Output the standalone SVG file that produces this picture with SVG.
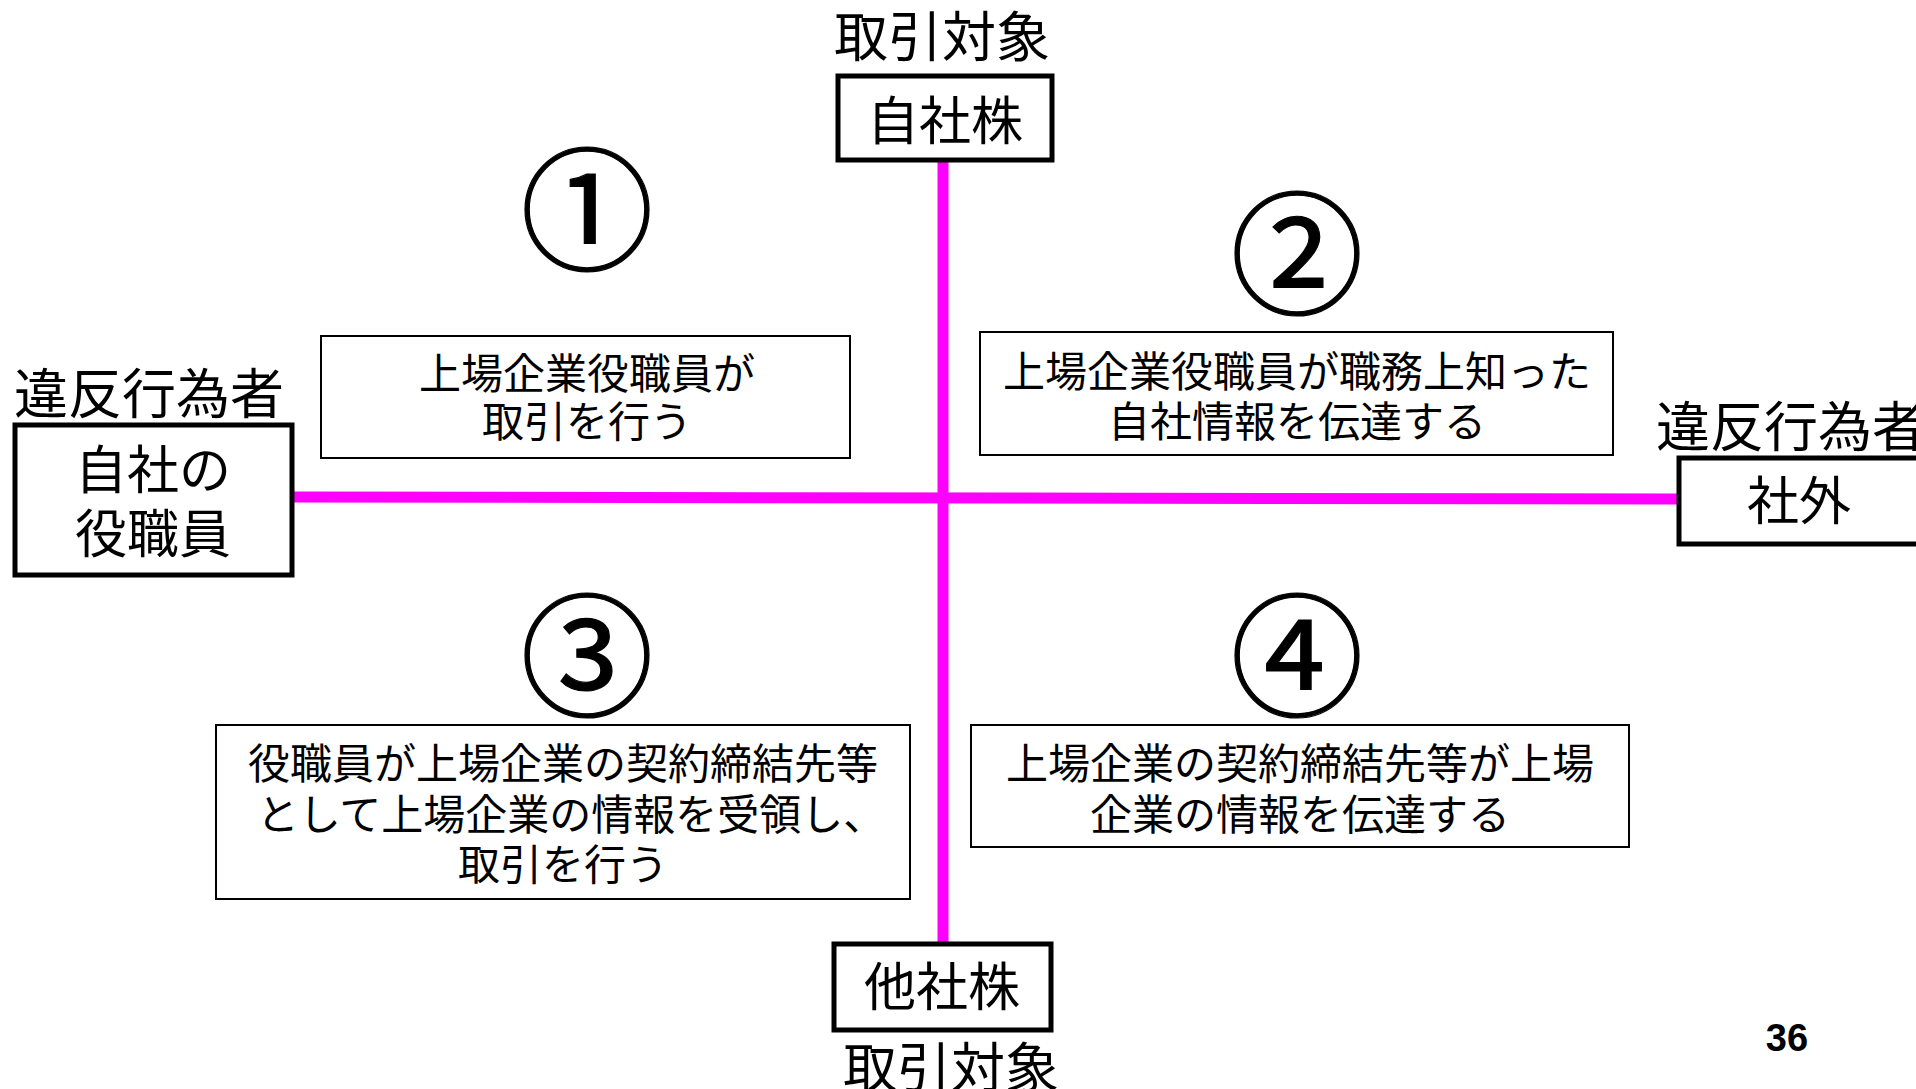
<svg xmlns="http://www.w3.org/2000/svg" width="1916" height="1089" viewBox="0 0 1916 1089">
<style>
text{font-family:"Noto Sans CJK JP","Noto Sans CJK SC",sans-serif;fill:#000;text-anchor:middle}
.lbl{font-size:54px}
.big{font-size:52px}
.q{font-size:42px}
.num{font-size:133px;stroke:#000;stroke-width:1.2}
.thick{fill:#fff;stroke:#000;stroke-width:5}
.thin{fill:#fff;stroke:#000;stroke-width:2}
.axis{stroke:#FF00FF;stroke-width:11;fill:none}
.pg{font-family:"Liberation Sans",Arial,sans-serif;font-weight:bold;font-size:38px}
</style>
<rect width="1916" height="1089" fill="#fff"/>
<g id="connectors">
<line class="axis" x1="943" y1="161" x2="943" y2="944"/>
<line class="axis" x1="292" y1="497" x2="1679" y2="499"/>
</g>
<g id="top-target">
<text class="lbl" x="942" y="57">取引対象</text>
<rect class="thick" x="838" y="76" width="214" height="84"/>
<text class="big" x="945" y="140">自社株</text>
</g>
<g id="bottom-target">
<rect class="thick" x="834" y="944" width="217" height="86"/>
<text class="big" x="942" y="1006">他社株</text>
<text class="lbl" x="951" y="1088">取引対象</text>
</g>
<g id="left-actor">
<text class="lbl" x="149" y="414">違反行為者</text>
<rect class="thick" x="15" y="425" width="277" height="150"/>
<text class="big" x="153" y="489">自社の</text>
<text class="big" x="153" y="553">役職員</text>
</g>
<g id="right-actor">
<text class="lbl" x="1656" y="447" style="text-anchor:start">違反行為者</text>
<rect class="thick" x="1679" y="458" width="260" height="86"/>
<text class="big" x="1799" y="520">社外</text>
</g>
<g id="q1">
<text class="num" x="587" y="260">①</text>
<rect class="thin" x="321" y="336" width="529" height="122"/>
<text class="q" x="587" y="389">上場企業役職員が</text>
<text class="q" x="587" y="437">取引を行う</text>
</g>
<g id="q2">
<text class="num" x="1297" y="304">②</text>
<rect class="thin" x="980" y="332" width="633" height="123"/>
<text class="q" x="1297" y="387">上場企業役職員が職務上知った</text>
<text class="q" x="1297" y="437">自社情報を伝達する</text>
</g>
<g id="q3">
<text class="num" x="587" y="706">③</text>
<rect class="thin" x="216" y="725" width="694" height="174"/>
<text class="q" x="563" y="779">役職員が上場企業の契約締結先等</text>
<text class="q" x="571" y="830">として上場企業の情報を受領し、</text>
<text class="q" x="563" y="880">取引を行う</text>
</g>
<g id="q4">
<text class="num" x="1297" y="706">④</text>
<rect class="thin" x="971" y="725" width="658" height="122"/>
<text class="q" x="1300" y="779">上場企業の契約締結先等が上場</text>
<text class="q" x="1300" y="830">企業の情報を伝達する</text>
</g>
<g id="page">
<text class="pg" x="1787" y="1051">36</text>
</g>
</svg>
